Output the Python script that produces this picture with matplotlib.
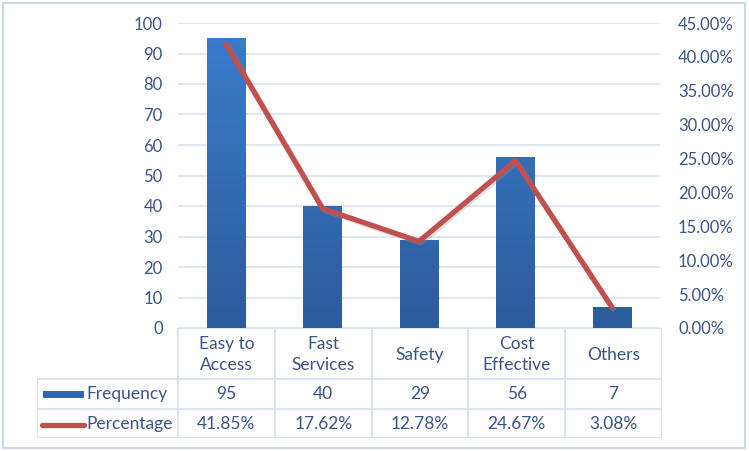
import matplotlib
matplotlib.use("Agg")
import matplotlib.pyplot as plt
import numpy as np
from matplotlib.patches import Rectangle
from matplotlib.colors import LinearSegmentedColormap
import matplotlib.patheffects as pe

categories = ["Easy to\nAccess", "Fast\nServices", "Safety", "Cost\nEffective", "Others"]
frequency = [95, 40, 29, 56, 7]
percentage = [41.85, 17.62, 12.78, 24.67, 3.08]
freq_labels = ["95", "40", "29", "56", "7"]
pct_labels = ["41.85%", "17.62%", "12.78%", "24.67%", "3.08%"]
left_ticks = list(range(0, 101, 10))
right_ticks = [0, 5, 10, 15, 20, 25, 30, 35, 40, 45]

W, H = 749, 451
plt.rcParams['font.family'] = ['Lato', 'DejaVu Sans']
txt_col = "#3A5486"
grid_col = "#D9E3F1"
tab_col = "#D3DEEE"

fig = plt.figure(figsize=(W/100, H/100), dpi=100)
fig.patch.set_facecolor("white")

def fx(px): return px / W
def fy(py): return 1 - py / H

# outer border
fig.add_artist(Rectangle((fx(3), fy(448)), fx(742), 445/H, transform=fig.transFigure,
                         fill=False, edgecolor="#C9D7EC", lw=1.5))

x0, x1, ytop, ybot = 178, 660, 23, 328
ax = fig.add_axes([fx(x0), fy(ybot), fx(x1 - x0), (ybot - ytop)/H])
for s in ax.spines.values():
    s.set_visible(False)
ax.set_yticks(left_ticks)
ax.set_yticklabels([str(t) for t in left_ticks])
ax.tick_params(axis='y', length=0, pad=11, labelsize=12, labelcolor=txt_col)
ax.set_xticks([])
ax.yaxis.grid(True, color=grid_col, lw=1.2)
ax.set_axisbelow(True)

x = np.arange(len(categories))
cmap = LinearSegmentedColormap.from_list("bar", ["#2C5C9C", "#3B7DCC"])
bars = ax.bar(x, frequency, width=0.4, color="none", edgecolor="none", zorder=2)
grad = np.linspace(0, 1, 256).reshape(-1, 1)
for b in bars:
    bx, bw = b.get_x(), b.get_width()
    im = ax.imshow(grad, cmap=cmap, aspect='auto', origin='lower',
                   extent=(bx, bx + bw, 0, 100), zorder=2)
    im.set_clip_path(b)
ax.set_xlim(-0.5, len(categories) - 0.5)
ax.set_ylim(0, 100)

ax2 = ax.twinx()
ax2.set_ylim(0, 45)
for s in ax2.spines.values():
    s.set_visible(False)
ax2.set_yticks(right_ticks)
ax2.set_yticklabels([f"{t:.2f}%" for t in right_ticks])
ax2.tick_params(axis='y', length=0, pad=13, labelsize=12, labelcolor=txt_col)
ax2.plot(x, percentage, color="#C0504D", lw=3.8, solid_capstyle='round', zorder=3,
         path_effects=[pe.SimpleLineShadow(offset=(1.2, -1.2), shadow_color="#999999", alpha=0.3),
                       pe.Normal()])

# data table
tl, tr, tt, tb = 37, 662, 328, 438
tax = fig.add_axes([fx(tl), fy(tb), fx(tr - tl), (tb - tt)/H])
tax.set_xlim(tl, tr)
tax.set_ylim(tb, tt)
tax.axis('off')
cols = [178 + i * (tr - 178) / 5 for i in range(6)]
r1, r2 = 379, 409
for cx in cols:
    tax.plot([cx, cx], [tt, tb], color=tab_col, lw=1.2)
tax.plot([tl, tl], [r1, tb], color=tab_col, lw=1.2)
tax.plot([178, tr], [tt, tt], color=tab_col, lw=1.2)
for ry in (r1, r2, tb):
    tax.plot([tl, tr], [ry, ry], color=tab_col, lw=1.2)

fs = 12.5
for i in range(5):
    cxm = (cols[i] + cols[i + 1]) / 2
    tax.text(cxm, (tt + r1) / 2 + 1, categories[i], ha='center', va='center',
             fontsize=fs, color=txt_col, linespacing=1.35)
    tax.text(cxm, (r1 + r2) / 2, freq_labels[i], ha='center', va='center', fontsize=fs, color=txt_col)
    tax.text(cxm, (r2 + tb) / 2, pct_labels[i], ha='center', va='center', fontsize=fs, color=txt_col)

# legend keys
tax.add_patch(Rectangle((43, (r1 + r2) / 2 - 3.5), 41, 7, facecolor="#2F66AE", edgecolor="none"))
tax.plot([42, 84], [(r2 + tb) / 2 + 1, (r2 + tb) / 2 + 1], color="#C0504D", lw=3.8, solid_capstyle='round')
tax.text(86, (r1 + r2) / 2, "Frequency", ha='left', va='center', fontsize=fs, color=txt_col)
tax.text(86, (r2 + tb) / 2, "Percentage", ha='left', va='center', fontsize=fs, color=txt_col)

fig.savefig("out.png", dpi=100, facecolor="white")
